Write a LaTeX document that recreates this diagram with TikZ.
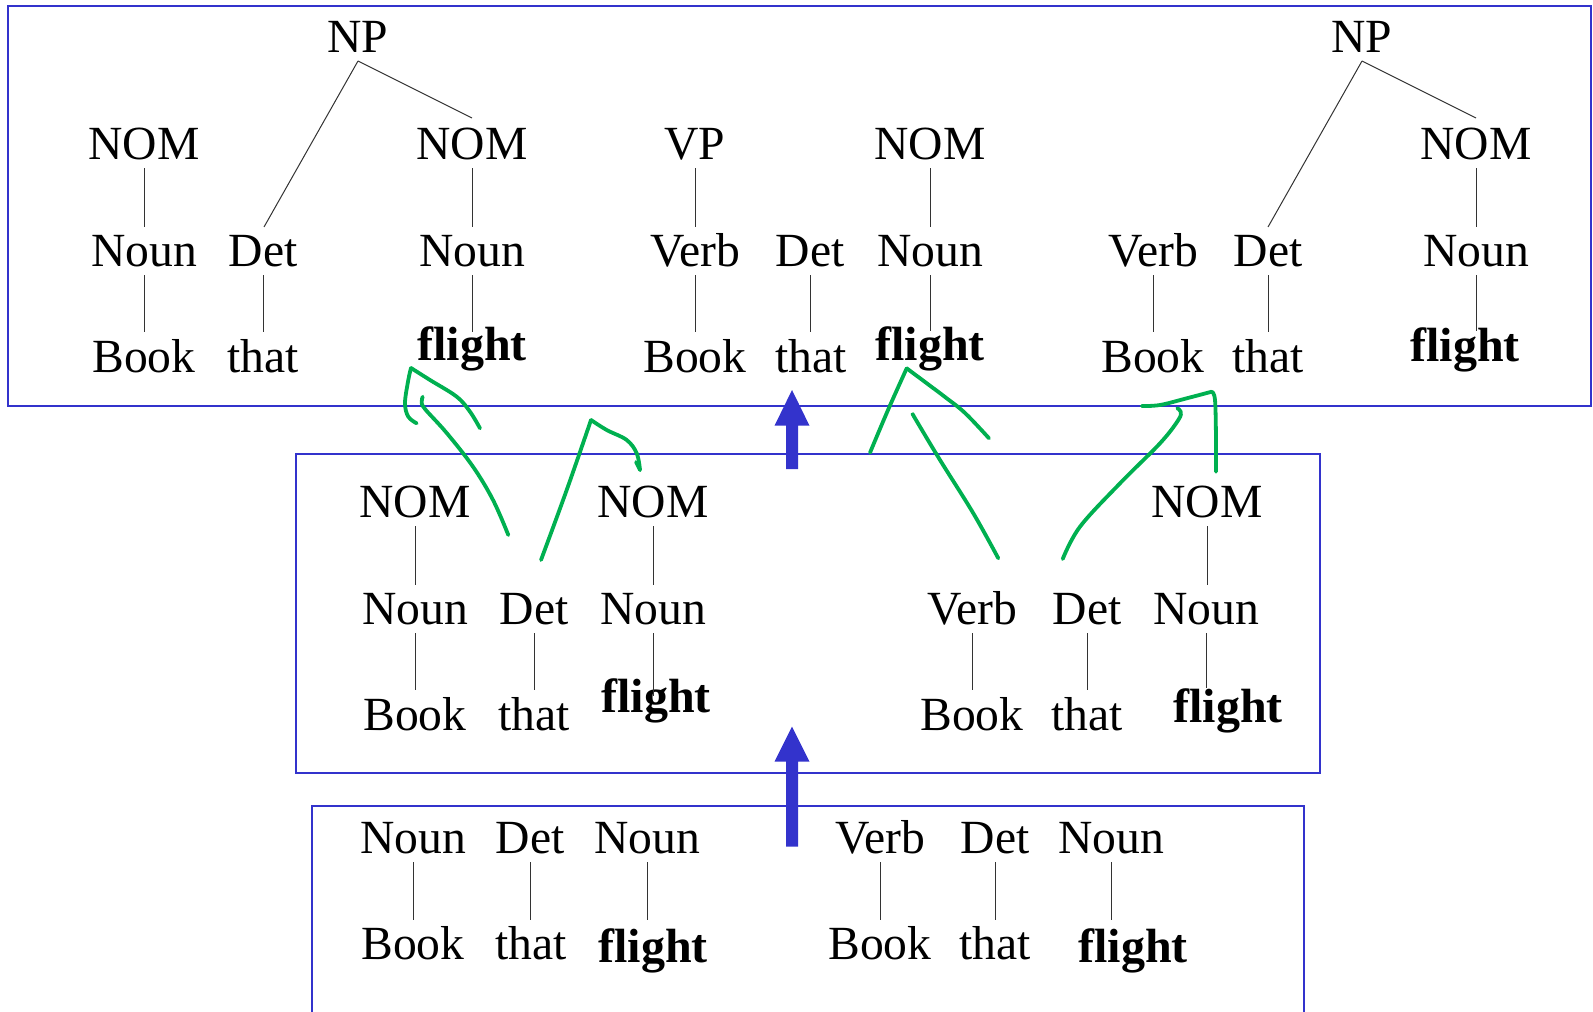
\documentclass[tikz,border=0pt]{standalone}
\usepackage{fontspec}
\setmainfont{Liberation Serif}
\usetikzlibrary{calc}
\definecolor{boxblue}{RGB}{51,51,204}
\definecolor{mkgreen}{RGB}{0,176,80}
\newcommand\treeline[3]{\draw[tree] ($(#1.base)+(0,9)$) -- ($(#1.base |- #2.base)+(0,#3)$);}
\begin{document}
\begin{tikzpicture}[x=0.5pt,y=-0.5pt,
  lbl/.style={anchor=base,inner sep=0pt,font=\fontsize{23.8}{26}\selectfont},
  bf/.style={anchor=base,inner sep=0pt,font=\fontsize{24}{26}\selectfont\bfseries},
  tree/.style={draw=black!80,line width=0.5pt},
  bluebox/.style={draw=boxblue,line width=1pt},
  blockarrow/.style={fill=boxblue},
  greenstroke/.style={draw=mkgreen,line width=1.9pt,line cap=round,line join=round}]
\path[use as bounding box] (0,0) rectangle (1593,1011);
\clip (0,0) rectangle (1593,1011);

% ---------- boxes ----------
\draw[bluebox] (7.5,6) rectangle (1591,405.5);
\draw[bluebox] (295.6,453.5) rectangle (1320,773.3);
\draw[bluebox] (312,1030) -- (312,805.7) -- (1303.5,805.7) -- (1303.5,1030);

% ---------- block arrows ----------
\fill[blockarrow] (786,469) -- (786,425.7) -- (774.5,425.7) -- (792,390) -- (809.5,425.7) -- (798,425.7) -- (798,469) -- cycle;
\fill[blockarrow] (786,846.7) -- (786,761.7) -- (774.5,761.7) -- (792,726.7) -- (809.5,761.7) -- (798,761.7) -- (798,846.7) -- cycle;

% ---------- top box ----------
\node[lbl] (np1) at (358,53) {NP};
\node[lbl] (nomA) at (144,159) {NOM};
\node[lbl] (nounA) at (144,266) {Noun};
\node[lbl] (bookA) at (144,372) {Book};
\node[lbl] (detA) at (263,266) {Det};
\node[lbl] (thatA) at (263,372) {that};
\node[lbl] (nomB) at (472,159) {NOM};
\node[lbl] (nounB) at (472,266) {Noun};
\node[bf] (flB) at (472,360) {flight};
\node[lbl] (vpC) at (695,159) {VP};
\node[lbl] (verbC) at (695,266) {Verb};
\node[lbl] (bookC) at (695,372) {Book};
\node[lbl] (detC) at (810,266) {Det};
\node[lbl] (thatC) at (811,372) {that};
\node[lbl] (nomD) at (930,159) {NOM};
\node[lbl] (nounD) at (930,266) {Noun};
\node[bf] (flD) at (930,360) {flight};
\node[lbl] (verbE) at (1153,266) {Verb};
\node[lbl] (bookE) at (1153,372) {Book};
\node[lbl] (detE) at (1268,266) {Det};
\node[lbl] (thatE) at (1268,372) {that};
\node[lbl] (np2) at (1362,53) {NP};
\node[lbl] (nomF) at (1476,159) {NOM};
\node[lbl] (nounF) at (1476,266) {Noun};
\node[bf] (flF) at (1465,361) {flight};

\treeline{nomA}{nounA}{-39}
\treeline{nounA}{bookA}{-40}
\treeline{detA}{thatA}{-40}
\treeline{nomB}{nounB}{-39}
\treeline{nounB}{flB}{-28}
\treeline{vpC}{verbC}{-39}
\treeline{verbC}{bookC}{-40}
\treeline{detC}{thatC}{-40}
\treeline{nomD}{nounD}{-39}
\treeline{nounD}{flD}{-29}
\treeline{verbE}{bookE}{-40}
\treeline{detE}{thatE}{-40}
\treeline{nomF}{nounF}{-39}
\treeline{nounF}{flF}{-30}
\draw[tree] ($(np1.base)+(0,8)$) -- ($(detA.base)+(1,-39)$);
\draw[tree] ($(np1.base)+(0,8)$) -- ($(nomB.base)+(0,-41)$);
\draw[tree] ($(np2.base)+(0,8)$) -- ($(detE.base)+(0,-39)$);
\draw[tree] ($(np2.base)+(0,8)$) -- ($(nomF.base)+(0,-41)$);

% ---------- middle box ----------
\node[lbl] (mnomA) at (415,517) {NOM};
\node[lbl] (mnounA) at (415,624) {Noun};
\node[lbl] (mbookA) at (415,730) {Book};
\node[lbl] (mdetA) at (534,624) {Det};
\node[lbl] (mthatA) at (534,730) {that};
\node[lbl] (mnomB) at (653,517) {NOM};
\node[lbl] (mnounB) at (653,624) {Noun};
\node[bf] (mflB) at (656,712) {flight};
\node[lbl] (mverbC) at (972,624) {Verb};
\node[lbl] (mbookC) at (972,730) {Book};
\node[lbl] (mdetC) at (1087,624) {Det};
\node[lbl] (mthatC) at (1087,730) {that};
\node[lbl] (mnomD) at (1207,517) {NOM};
\node[lbl] (mnounD) at (1206,624) {Noun};
\node[bf] (mflD) at (1228,722) {flight};

\treeline{mnomA}{mnounA}{-39}
\treeline{mnounA}{mbookA}{-40}
\treeline{mdetA}{mthatA}{-40}
\treeline{mnomB}{mnounB}{-39}
\treeline{mnounB}{mflB}{-16}
\treeline{mverbC}{mbookC}{-40}
\treeline{mdetC}{mthatC}{-40}
\treeline{mnomD}{mnounD}{-39}
\treeline{mnounD}{mflD}{-34}

% ---------- bottom box ----------
\node[lbl] (bnounA) at (413,853) {Noun};
\node[lbl] (bdetA) at (530,853) {Det};
\node[lbl] (bnounB) at (647,853) {Noun};
\node[lbl] (bbookA) at (413,959) {Book};
\node[lbl] (bthatA) at (531,959) {that};
\node[bf] (bflB) at (653,962) {flight};
\node[lbl] (bverbC) at (880,853) {Verb};
\node[lbl] (bdetC) at (995,853) {Det};
\node[lbl] (bnounD) at (1111,853) {Noun};
\node[lbl] (bbookC) at (880,959) {Book};
\node[lbl] (bthatC) at (995,959) {that};
\node[bf] (bflD) at (1133,962) {flight};

\treeline{bnounA}{bbookA}{-39}
\treeline{bdetA}{bthatA}{-39}
\treeline{bnounB}{bflB}{-42}
\treeline{bverbC}{bbookC}{-39}
\treeline{bdetC}{bthatC}{-39}
\treeline{bnounD}{bflD}{-42}

% ---------- green hand-drawn strokes ----------
\draw[greenstroke] plot[smooth,tension=0.6] coordinates {(416.7,423.3) (408.3,416.7) (405,403) (408.3,380) (411,368)};
\draw[greenstroke] plot[smooth,tension=0.6] coordinates {(411,368) (430,380) (456.7,396.7) (470,411.7) (480,428.3)};
\draw[greenstroke] plot[smooth,tension=0.6] coordinates {(422.7,396.7) (421.7,402) (425,409) (446.7,433) (473,466.7) (493,500) (508.3,535)};
\draw[greenstroke] plot[smooth,tension=0.6] coordinates {(541,560) (566.7,490) (591,420)};
\draw[greenstroke] plot[smooth,tension=0.6] coordinates {(591,420) (606.7,430) (626.7,440) (636.7,453.3) (640,470)};
\draw[greenstroke] (640,470) -- (636,462);
\draw[greenstroke] plot[smooth,tension=0.6] coordinates {(870,452.7) (888,410) (906.7,368.3)};
\draw[greenstroke] plot[smooth,tension=0.6] coordinates {(906.7,368.3) (925,382) (945,397) (965,413) (989,438.3)};
\draw[greenstroke] plot[smooth,tension=0.6] coordinates {(912.7,414) (916,420) (940,460) (973.3,513.3) (998.3,558.3)};
\draw[greenstroke] plot[smooth,tension=0.6] coordinates {(1062.7,559) (1080,526.7) (1120,483.3) (1160,443.3) (1178.3,420) (1180.7,411.7) (1177.3,408.3)};
\draw[greenstroke] plot[smooth,tension=0.6] coordinates {(1141.7,406) (1160,405) (1186.7,398.3) (1211.7,391.7)};
\draw[greenstroke] plot[smooth,tension=0.6] coordinates {(1211.7,391.7) (1215,400) (1216,440) (1216,471.7)};
\end{tikzpicture}
\end{document}
